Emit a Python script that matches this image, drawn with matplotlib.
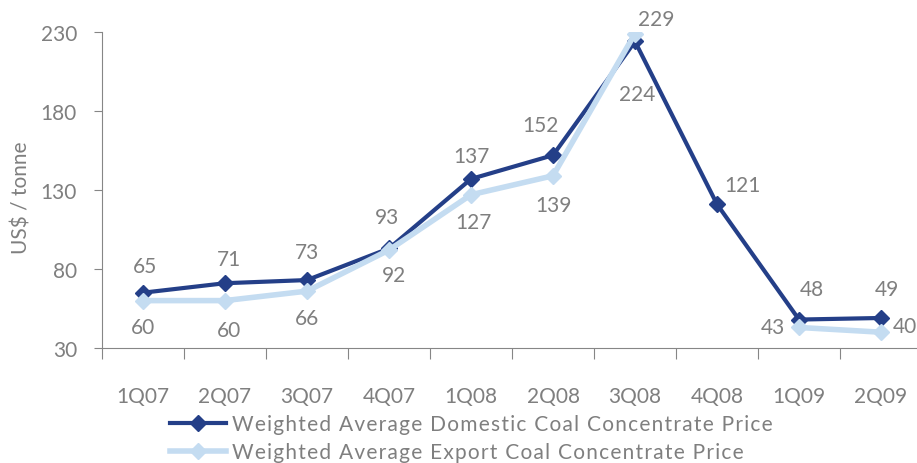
import numpy as np
import matplotlib.pyplot as plt
from matplotlib.lines import Line2D

plt.rcParams['font.family'] = ['Lato', 'DejaVu Sans']

quarters = ["1Q07", "2Q07", "3Q07", "4Q07", "1Q08", "2Q08", "3Q08", "4Q08", "1Q09", "2Q09"]
domestic = [65, 71, 73, 93, 137, 152, 224, 121, 48, 49]
export = [60, 60, 66, 92, 127, 139, 229, np.nan, 43, 40]
series_names = ["Weighted Average Domestic Coal Concentrate Price",
                "Weighted Average Export Coal Concentrate Price"]

# label offsets in pixels (dx, dy) from each marker
dom_offsets = [(2, 27), (4, 24), (0, 28), (-2, 31), (0, 23), (-13, 30),
               (2, -53), (25, 19), (13, 31), (6, 29)]
exp_offsets = [(0, -26), (4, -29), (0, -27), (5, -25), (2, -27), (0, -29),
               (21, 15), None, (-26, 0), (24, 6)]

dark = "#243f88"
light = "#c4dcf1"
grey = "#7f7f7f"

W, H = 917, 464
fig = plt.figure(figsize=(W / 100, H / 100), dpi=100)
ax = fig.add_axes([102 / W, 1 - 349 / H, 820 / W, 316 / H])

x = np.arange(len(quarters))
ax.plot(x, domestic, color=dark, lw=3, marker="D", ms=8.5, zorder=3)
ax.plot(x, export, color=light, lw=4, marker="D", ms=8.5, zorder=4)

for xi, v, off in zip(x, domestic, dom_offsets):
    ax.annotate(f"{v:.0f}", (xi, v), xytext=off, textcoords="offset pixels",
                ha="center", va="center", fontsize=15, color=grey)
for xi, v, off in zip(x, export, exp_offsets):
    if off is None or np.isnan(v):
        continue
    ax.annotate(f"{v:.0f}", (xi, v), xytext=off, textcoords="offset pixels",
                ha="center", va="center", fontsize=15, color=grey)

ax.set_xlim(-0.5, len(quarters) - 0.5)
ax.set_ylim(30, 230)
ax.set_yticks([30, 80, 130, 180, 230])

# boundary ticks between categories, labels centred on categories
ax.set_xticks(np.arange(-0.5, len(quarters)), labels=[])
ax.set_xticks(x, labels=quarters, minor=True)
ax.tick_params(axis="x", which="major", length=8, color="#868686")
ax.tick_params(axis="x", which="minor", length=0, pad=27, labelsize=15, labelcolor=grey)
ax.tick_params(axis="y", length=6, color="#868686", labelsize=15, labelcolor=grey, pad=12)

for s in ["top", "right"]:
    ax.spines[s].set_visible(False)
for s in ["left", "bottom"]:
    ax.spines[s].set_color("#868686")

ax.set_ylabel("US$ / tonne", fontsize=15, color=grey)
ax.yaxis.set_label_coords(-71 / 820, 0.48)

# legend text is letter-spaced with hair spaces
spaced = ["\u200a".join(name) for name in series_names]
handles = [
    Line2D([], [], color=dark, lw=3, marker="D", ms=8.5),
    Line2D([], [], color=light, lw=4, marker="D", ms=8.5),
]
fig.legend(handles, spaced,
           loc="upper left", bbox_to_anchor=(170 / W, 1 - 415 / H),
           frameon=False, fontsize=15, labelcolor=grey,
           handlelength=2.7, handletextpad=0.3, labelspacing=0.4,
           borderaxespad=0, borderpad=0)

fig.savefig("out.png", dpi=100)
